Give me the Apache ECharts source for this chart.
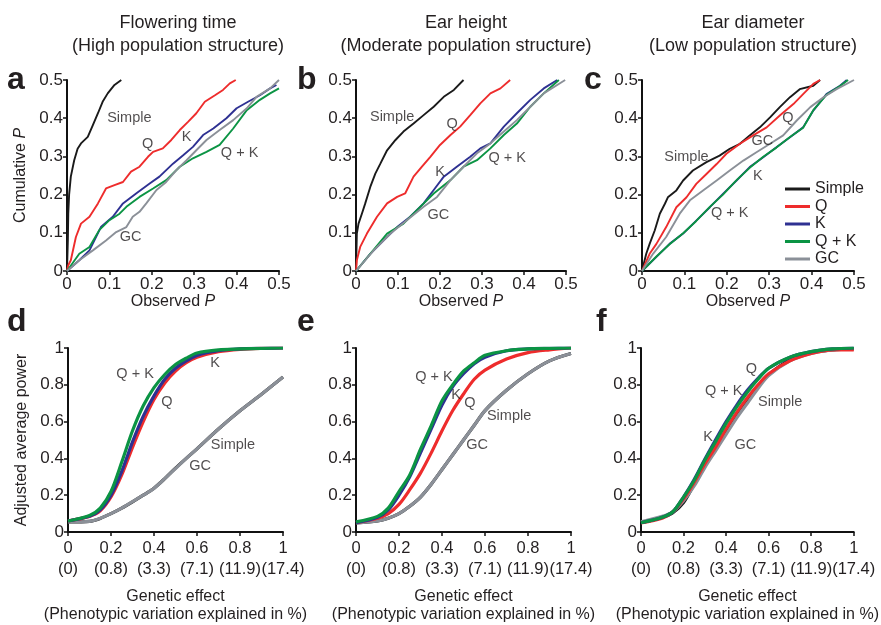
<!DOCTYPE html>
<html><head><meta charset="utf-8">
<script src="https://cdn.jsdelivr.net/npm/echarts@6/dist/echarts.min.js"></script>
<style>html,body{margin:0;padding:0;background:#fff}#c{width:881px;height:625px}</style>
</head><body><div id="c"></div>
<script>
// ---------- DATA ----------
const seriesNames = ['Simple', 'Q', 'K', 'Q + K', 'GC'];
const colTitles = ['Flowering time\n(High population structure)', 'Ear height\n(Moderate population structure)', 'Ear diameter\n(Low population structure)'];
const panelLetters = ['a', 'b', 'c', 'd', 'e', 'f'];
const pctLabels = ['(0)', '(0.8)', '(3.3)', '(7.1)', '(11.9)', '(17.4)'];

// Top panels: [observed P, cumulative P]
const aSimple = [[0,0],[0.002,0.08],[0.003,0.15],[0.005,0.2],[0.009,0.247],[0.017,0.29],[0.025,0.32],[0.033,0.334],[0.049,0.351],[0.061,0.382],[0.073,0.413],[0.084,0.443],[0.096,0.465],[0.112,0.487],[0.128,0.5]];
const aQ = [[0,0],[0.003,0.015],[0.009,0.028],[0.021,0.089],[0.033,0.124],[0.053,0.142],[0.073,0.177],[0.092,0.216],[0.112,0.225],[0.132,0.233],[0.151,0.26],[0.171,0.273],[0.191,0.299],[0.203,0.312],[0.226,0.321],[0.246,0.343],[0.266,0.369],[0.286,0.391],[0.305,0.413],[0.325,0.443],[0.349,0.46],[0.368,0.474],[0.384,0.491],[0.398,0.5]];
const aK = [[0,0],[0.029,0.028],[0.053,0.054],[0.08,0.115],[0.108,0.142],[0.132,0.177],[0.163,0.203],[0.195,0.229],[0.218,0.247],[0.25,0.281],[0.274,0.303],[0.297,0.325],[0.321,0.356],[0.345,0.373],[0.376,0.4],[0.4,0.426],[0.427,0.443],[0.455,0.46],[0.479,0.478],[0.494,0.487]];
const aQK = [[0,0],[0.029,0.045],[0.053,0.063],[0.076,0.107],[0.1,0.133],[0.124,0.15],[0.14,0.168],[0.171,0.194],[0.203,0.216],[0.234,0.238],[0.266,0.273],[0.297,0.295],[0.329,0.312],[0.36,0.33],[0.392,0.373],[0.424,0.421],[0.455,0.448],[0.479,0.465],[0.5,0.478]];
const aGC = [[0,0],[0.029,0.028],[0.061,0.054],[0.092,0.08],[0.116,0.102],[0.14,0.115],[0.155,0.142],[0.171,0.155],[0.187,0.177],[0.211,0.212],[0.234,0.233],[0.258,0.264],[0.282,0.29],[0.305,0.316],[0.329,0.343],[0.36,0.369],[0.392,0.395],[0.424,0.426],[0.447,0.456],[0.479,0.478],[0.5,0.5]];

const bSimple = [[0,0],[0.002,0.098],[0.006,0.124],[0.014,0.15],[0.022,0.177],[0.034,0.22],[0.046,0.255],[0.058,0.281],[0.074,0.316],[0.094,0.343],[0.113,0.365],[0.137,0.386],[0.161,0.408],[0.185,0.43],[0.209,0.456],[0.233,0.474],[0.256,0.5]];
const bQ = [[0,0],[0.002,0.028],[0.01,0.063],[0.026,0.098],[0.05,0.142],[0.074,0.177],[0.098,0.194],[0.117,0.203],[0.137,0.247],[0.157,0.273],[0.177,0.299],[0.2,0.33],[0.225,0.356],[0.248,0.378],[0.272,0.408],[0.296,0.439],[0.32,0.465],[0.344,0.478],[0.367,0.5]];
const bK = [[0,0],[0.034,0.045],[0.066,0.08],[0.098,0.115],[0.129,0.142],[0.161,0.177],[0.185,0.212],[0.209,0.247],[0.24,0.273],[0.272,0.299],[0.296,0.321],[0.32,0.334],[0.352,0.378],[0.383,0.413],[0.415,0.448],[0.447,0.478],[0.479,0.5]];
const bQK = [[0,0],[0.034,0.045],[0.074,0.098],[0.113,0.124],[0.153,0.168],[0.185,0.203],[0.225,0.238],[0.256,0.273],[0.288,0.29],[0.32,0.321],[0.352,0.356],[0.383,0.386],[0.415,0.43],[0.447,0.465],[0.483,0.5]];
const bGC = [[0,0],[0.042,0.054],[0.082,0.098],[0.121,0.133],[0.161,0.168],[0.193,0.194],[0.225,0.238],[0.256,0.273],[0.288,0.308],[0.32,0.334],[0.352,0.365],[0.383,0.395],[0.415,0.43],[0.447,0.465],[0.498,0.5]];

const cSimple = [[0,0],[0.01,0.045],[0.018,0.071],[0.03,0.106],[0.042,0.15],[0.054,0.176],[0.061,0.193],[0.081,0.211],[0.097,0.237],[0.12,0.263],[0.152,0.285],[0.183,0.302],[0.207,0.32],[0.231,0.333],[0.254,0.355],[0.278,0.376],[0.302,0.402],[0.325,0.429],[0.349,0.455],[0.372,0.476],[0.404,0.485],[0.42,0.5]];
const cQ = [[0,0],[0.018,0.045],[0.034,0.071],[0.057,0.115],[0.081,0.167],[0.105,0.193],[0.128,0.228],[0.152,0.254],[0.176,0.28],[0.199,0.307],[0.231,0.333],[0.262,0.355],[0.294,0.376],[0.325,0.407],[0.357,0.437],[0.38,0.463],[0.404,0.49],[0.42,0.5]];
const cK = [[0,0],[0.034,0.037],[0.065,0.071],[0.097,0.098],[0.128,0.132],[0.16,0.167],[0.191,0.202],[0.223,0.237],[0.254,0.272],[0.286,0.298],[0.317,0.324],[0.349,0.35],[0.38,0.376],[0.404,0.42],[0.435,0.463],[0.467,0.485],[0.483,0.5]];
const cQK = [[0,0],[0.034,0.038],[0.065,0.07],[0.097,0.099],[0.128,0.131],[0.16,0.168],[0.191,0.2],[0.223,0.238],[0.254,0.27],[0.286,0.299],[0.317,0.323],[0.349,0.351],[0.38,0.375],[0.404,0.421],[0.435,0.461],[0.467,0.484],[0.486,0.5]];
const cGC = [[0,0],[0.026,0.045],[0.057,0.089],[0.089,0.15],[0.113,0.185],[0.144,0.211],[0.176,0.237],[0.207,0.263],[0.239,0.289],[0.27,0.311],[0.302,0.333],[0.333,0.355],[0.365,0.394],[0.397,0.429],[0.428,0.455],[0.459,0.476],[0.5,0.5]];

// Bottom panels: genetic effect grid and adjusted average power
const effect = [0, 0.1, 0.15, 0.2, 0.25, 0.3, 0.35, 0.4, 0.45, 0.5, 0.55, 0.6, 0.7, 0.8, 0.9, 1];
const dSimple = [0.055,0.058,0.074,0.1,0.13,0.164,0.2,0.238,0.29,0.347,0.4,0.452,0.56,0.659,0.749,0.842];
const dQ  = [0.06,0.085,0.115,0.19,0.31,0.46,0.6,0.72,0.81,0.875,0.92,0.95,0.98,0.993,0.998,1.0];
const dK  = [0.06,0.085,0.12,0.2,0.33,0.49,0.63,0.74,0.83,0.89,0.93,0.96,0.985,0.995,0.998,1.0];
const dQK = [0.06,0.09,0.13,0.22,0.38,0.55,0.686,0.785,0.856,0.91,0.945,0.973,0.99,0.995,0.998,1.0];
const dGC = [0.055,0.058,0.075,0.1,0.13,0.165,0.2,0.237,0.29,0.345,0.4,0.452,0.56,0.659,0.749,0.842];

const eSimple = [0.05,0.06,0.075,0.1,0.14,0.19,0.26,0.34,0.42,0.5,0.58,0.66,0.77,0.86,0.93,0.97];
const eQ  = [0.05,0.075,0.1,0.15,0.23,0.32,0.43,0.55,0.66,0.75,0.83,0.88,0.94,0.975,0.99,1.0];
const eK  = [0.05,0.08,0.12,0.2,0.3,0.43,0.56,0.69,0.79,0.86,0.915,0.95,0.985,0.995,0.998,1.0];
const eQK = [0.055,0.085,0.13,0.22,0.31,0.45,0.578,0.713,0.8,0.874,0.92,0.96,0.985,0.995,0.998,1.0];
const eGC = [0.05,0.06,0.075,0.1,0.14,0.19,0.26,0.34,0.42,0.5,0.58,0.66,0.77,0.86,0.93,0.97];

const fSimple = [0.05,0.08,0.105,0.16,0.26,0.36,0.46,0.55,0.63,0.71,0.79,0.855,0.935,0.975,0.99,0.995];
const fQ  = [0.05,0.075,0.11,0.18,0.27,0.37,0.46,0.56,0.65,0.73,0.8,0.86,0.93,0.97,0.99,0.99];
const fK  = [0.05,0.08,0.11,0.19,0.285,0.395,0.5,0.6,0.69,0.77,0.835,0.89,0.95,0.98,0.995,1.0];
const fQK = [0.05,0.08,0.11,0.19,0.28,0.39,0.49,0.59,0.68,0.76,0.83,0.89,0.95,0.98,0.995,1.0];
const fGC = [0.055,0.085,0.11,0.17,0.25,0.35,0.44,0.53,0.62,0.7,0.78,0.85,0.93,0.97,0.99,0.995];

// Curve annotations: [x, y, text] in data units
const annA = [[0.147,0.40,'Simple'],[0.19,0.332,'Q'],[0.282,0.35,'K'],[0.407,0.308,'Q + K'],[0.15,0.088,'GC']];
const annB = [[0.086,0.402,'Simple'],[0.229,0.385,'Q'],[0.2,0.259,'K'],[0.36,0.295,'Q + K'],[0.196,0.146,'GC']];
const annC = [[0.105,0.298,'Simple'],[0.344,0.4,'Q'],[0.284,0.34,'GC'],[0.273,0.25,'K'],[0.207,0.151,'Q + K']];
const annD = [[0.312,0.856,'Q + K'],[0.684,0.92,'K'],[0.46,0.705,'Q'],[0.767,0.474,'Simple'],[0.614,0.361,'GC']];
const annE = [[0.363,0.84,'Q + K'],[0.465,0.745,'K'],[0.53,0.70,'Q'],[0.712,0.63,'Simple'],[0.563,0.474,'GC']];
const annF = [[0.519,0.888,'Q'],[0.389,0.765,'Q + K'],[0.654,0.705,'Simple'],[0.315,0.517,'K'],[0.491,0.474,'GC']];

// ---------- STYLE ----------
const FONT = "'Liberation Sans', Arial, sans-serif";
const TXT = '#231f20';
const colors = {'Simple':'#1a1a1a','Q':'#ee2c2c','K':'#2e3192','Q + K':'#0b9444','GC':'#8b9098'};
const grids = [
  {left:67, top:80, width:212, height:191},
  {left:356, top:80, width:210, height:191},
  {left:642, top:80, width:212, height:191},
  {left:68, top:348, width:215, height:186},
  {left:356, top:348, width:215, height:186},
  {left:641, top:348, width:216, height:186}
];
const topData = [
  {Simple:aSimple,Q:aQ,K:aK,'Q + K':aQK,GC:aGC},
  {Simple:bSimple,Q:bQ,K:bK,'Q + K':bQK,GC:bGC},
  {Simple:cSimple,Q:cQ,K:cK,'Q + K':cQK,GC:cGC}
];
const botData = [
  {Simple:dSimple,Q:dQ,K:dK,'Q + K':dQK,GC:dGC},
  {Simple:eSimple,Q:eQ,K:eK,'Q + K':eQK,GC:eGC},
  {Simple:fSimple,Q:fQ,K:fK,'Q + K':fQK,GC:fGC}
];
const anns = [annA, annB, annC, annD, annE, annF];

const axisLine = {lineStyle:{color:'#111', width:2}};
const axisTick = {show:true, length:4, lineStyle:{color:'#111', width:1.5}};
const lbl = {color:TXT, fontSize:17, fontFamily:FONT};
const nameStyle = {color:TXT, fontSize:16, fontFamily:FONT, rich:{i:{fontStyle:'italic', fontSize:16, fontFamily:FONT, color:TXT}}};

const xAxis = [], yAxis = [], series = [];
for (let i = 0; i < 6; i++) {
  const top = i < 3;
  if (top) {
    xAxis.push({gridIndex:i, type:'value', min:0, max:0.5, interval:0.1,
      axisLine, axisTick, splitLine:{show:false},
      axisLabel:Object.assign({margin:5}, lbl),
      name:'Observed {i|P}', nameLocation:'middle', nameGap:18, nameTextStyle:nameStyle});
    yAxis.push({gridIndex:i, type:'value', min:0, max:0.5, interval:0.1,
      axisLine:Object.assign({show:true}, axisLine), axisTick, splitLine:{show:false},
      axisLabel:Object.assign({margin:4}, lbl),
      name: i === 0 ? 'Cumulative {i|P}' : '', nameLocation:'middle', nameGap:38, nameTextStyle:nameStyle});
  } else {
    xAxis.push({gridIndex:i, type:'value', min:0, max:1, interval:0.2,
      axisLine, axisTick, splitLine:{show:false},
      axisLabel:Object.assign({margin:6, lineHeight:21,
        formatter:(v) => (v === 0 ? '0' : (v === 1 ? '1' : String(+v.toFixed(1)))) + '\n' + pctLabels[Math.round(v / 0.2)]}, lbl, {fontSize:16.5}),
      name:'Genetic effect\n(Phenotypic variation explained in %)', nameLocation:'middle', nameGap:56,
      nameTextStyle:{color:TXT, fontSize:16, fontFamily:FONT, lineHeight:18}});
    yAxis.push({gridIndex:i, type:'value', min:0, max:1, interval:0.2,
      axisLine:Object.assign({show:true}, axisLine), axisTick, splitLine:{show:false},
      axisLabel:Object.assign({margin:4}, lbl),
      name: i === 3 ? 'Adjusted average power' : '', nameLocation:'middle', nameGap:38, nameTextStyle:nameStyle});
  }
  const order = top ? ['Simple','Q','K','Q + K','GC'] : ['Simple','GC','Q','K','Q + K'];
  order.forEach(name => {
    const data = top ? topData[i][name] : botData[i-3][name].map((y, k) => [effect[k], y]);
    series.push({type:'line', name, xAxisIndex:i, yAxisIndex:i, data,
      smooth: top ? false : 0.3, symbol:'none', silent:true,
      lineStyle:{color:colors[name], width: top ? 1.9 : 3.2},
      itemStyle:{color:colors[name]}});
  });
  series.push({type:'scatter', xAxisIndex:i, yAxisIndex:i, symbolSize:0, silent:true, z:10,
    data:anns[i],
    label:{show:true, position:'inside', formatter:p => p.value[2], color:TXT, fontSize:14.5, fontFamily:FONT}});
}

const titles = colTitles.map((t, k) => ({text:t, left:grids[k].left + grids[k].width/2, top:7, textAlign:'center',
  textStyle:{color:TXT, fontSize:18, fontWeight:'normal', fontFamily:FONT, lineHeight:23}}));

const letterPos = [[7,96],[297,96],[584,96],[7,338],[297,338],[596,338]];
const graphic = panelLetters.map((t, k) => ({type:'text', x:letterPos[k][0], y:letterPos[k][1],
  style:{text:t, font:"bold 32px 'Liberation Sans', Arial, sans-serif", fill:TXT, textVerticalAlign:'bottom', verticalAlign:'bottom'}}));

const chart = echarts.init(document.getElementById('c'));
chart.setOption({
  animation:false,
  backgroundColor:'#fff',
  title:titles,
  graphic,
  grid:grids,
  xAxis, yAxis, series,
  legend:{data:seriesNames, orient:'vertical', left:785, top:181, padding:0, itemWidth:25, itemHeight:3, itemGap:1.5,
    icon:'rect', itemStyle:{borderWidth:0}, textStyle:{color:TXT, fontSize:16, fontFamily:FONT, lineHeight:14.7, padding:[0,0,0,0]}, itemTextGap:5, selectedMode:false}
});
</script></body></html>
